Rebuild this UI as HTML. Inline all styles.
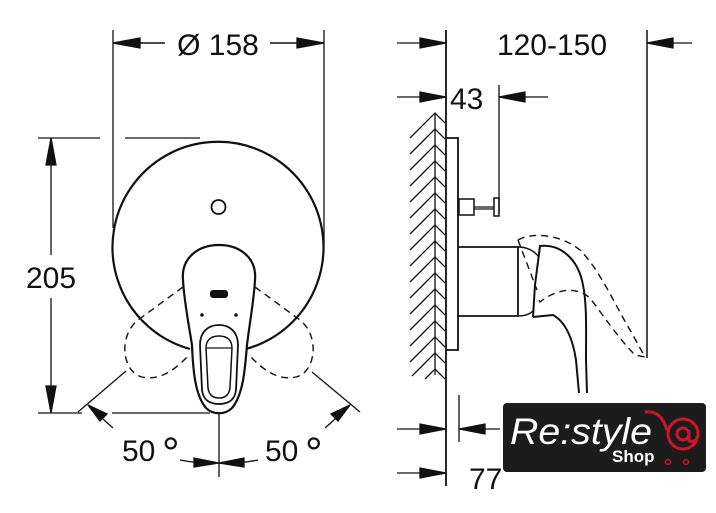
<!DOCTYPE html>
<html><head><meta charset="utf-8"><style>
html,body{margin:0;padding:0;background:#fff;}
svg{display:block;}
text{font-family:"Liberation Sans",sans-serif;fill:#111;}
</style></head><body>
<svg width="716" height="513" viewBox="0 0 716 513" xmlns="http://www.w3.org/2000/svg">
<g stroke="#111" fill="none" stroke-width="1.3">
<line x1="113" y1="30" x2="113" y2="228"/>
<line x1="324" y1="30" x2="324" y2="245"/>
<line x1="165" y1="43" x2="113" y2="43" stroke-width="1.5"/>
<path d="M113,43 L140,38 L140,48 Z" fill="#111"/>
<line x1="270" y1="43" x2="324" y2="43" stroke-width="1.5"/>
<path d="M324,43 L297,38 L297,48 Z" fill="#111"/>
<line x1="38" y1="138" x2="100" y2="138"/>
<line x1="125" y1="138" x2="200" y2="138"/>
<line x1="38" y1="413" x2="82" y2="413"/>
<line x1="112" y1="413" x2="210" y2="413"/>
<line x1="51" y1="138" x2="51" y2="255"/>
<line x1="51" y1="298" x2="51" y2="413"/>
<path d="M51,138 L46,165 L56,165 Z" fill="#111"/>
<path d="M51,413 L46,386 L56,386 Z" fill="#111"/>
<path d="M190,349 A105.5,105.5 0 1 1 246,349" stroke-width="2.2"/>
<circle cx="218.5" cy="207" r="7" stroke-width="1.8"/>
<path d="M192,345 C188,320 184,300 183,280 C181,258 198,245 219,245 C240,245 257,258 255,280 C254,300 250,320 247,345 C245,370 243,395 232,408 C225,415 213,415 206,408 C195,395 193,370 192,345 Z" stroke-width="2.2"/>
<path d="M200,345 C200,332 208,325 219,325 C230,325 238,332 238,345 L236,390 C235,400 228,404 219,404 C210,404 203,400 202,390 Z" stroke-width="1.8"/>
<path d="M206,348 C206,340 211,336 219,336 C227,336 232,340 232,348 L230,388 C229,395 225,398 219,398 C213,398 209,395 208,388 Z" stroke-width="1.5"/>
<line x1="206" y1="348" x2="232" y2="348"/>
<rect x="210" y="290" width="18" height="8" rx="3" fill="#111" stroke="none"/>
<circle cx="202" cy="315" r="1.8" fill="#111" stroke="none"/>
<circle cx="236" cy="315" r="1.8" fill="#111" stroke="none"/>
<path d="M183,287 L138,320 C118,336 122,372 142,377 C160,381 175,370 190,354" stroke-dasharray="7,5" stroke-width="1.4"/>
<path d="M255,287 L300,320 C320,336 316,372 296,377 C278,381 263,370 248,354" stroke-dasharray="7,5" stroke-width="1.4"/>
<line x1="126" y1="371" x2="78" y2="412"/>
<line x1="312" y1="372" x2="360" y2="412"/>
<line x1="113" y1="428" x2="95" y2="412"/>
<path d="M88,405 L107,414 L100,421 Z" fill="#111"/>
<line x1="325" y1="428" x2="343" y2="412"/>
<path d="M350,405 L331,414 L338,421 Z" fill="#111"/>
<line x1="219" y1="413" x2="219" y2="477"/>
<path d="M180,460 Q200,464 219,463" />
<path d="M258,460 Q238,464 219,463" />
<path d="M219,463 L194,458 L194,467 Z" fill="#111"/>
<path d="M219,463 L244,458 L244,467 Z" fill="#111"/>

<line x1="446" y1="30" x2="446" y2="486" stroke-width="1.8"/>
<line x1="647" y1="30" x2="647" y2="358" stroke-width="1.5"/>
<line x1="397" y1="43" x2="446" y2="43"/>
<path d="M446,43 L420,38 L420,48 Z" fill="#111"/>
<line x1="692" y1="43" x2="647" y2="43"/>
<path d="M647,43 L673,38 L673,48 Z" fill="#111"/>
<line x1="397" y1="97" x2="446" y2="97"/>
<path d="M446,97 L420,92 L420,102 Z" fill="#111"/>
<line x1="499" y1="85" x2="499" y2="213"/>
<line x1="548" y1="97" x2="499" y2="97"/>
<path d="M499,97 L525,92 L525,102 Z" fill="#111"/>
<line x1="435" y1="113" x2="435" y2="375"/>
<path d="M446,138 L458,138 L458,350 L446,350" stroke-width="1.8"/>
<rect x="459" y="199" width="15" height="16" stroke-width="1.5"/>
<line x1="474" y1="207" x2="494" y2="207"/>
<line x1="474" y1="209" x2="494" y2="209"/>
<rect x="494" y="198" width="5" height="18" stroke-width="1.5"/>
<path d="M458,247 L518,247 L518,316 L458,316" stroke-width="1.8"/>
<path d="M518,247 C527,247 533,250 538,256" stroke-width="1.5"/>
<path d="M518,316 C525,316 530,314 533,311" stroke-width="1.5"/>
<path d="M533,317 L535,285 L540,246 C560,244 578,258 583,285 C587,305 586,330 586,360 L587,393" stroke-width="2"/>
<path d="M533,317 L553,315 C566,322 573,340 576,360 L579,393" stroke-width="2"/>
<path d="M518,240 C532,232 560,234 580,250 C600,270 615,305 630,330 L645,357 L635,355 C620,340 605,318 590,298 C575,285 555,290 540,302 L537,297" stroke-dasharray="7,5" stroke-width="1.4"/>
<path d="M518,240 L537,290" stroke-dasharray="7,5" stroke-width="1.4"/>
<line x1="459" y1="395" x2="459" y2="442"/>
<line x1="397" y1="429" x2="446" y2="429"/>
<path d="M446,429 L420,424 L420,434 Z" fill="#111"/>
<line x1="500" y1="429" x2="459" y2="429"/>
<path d="M459,429 L485,424 L485,434 Z" fill="#111"/>
<line x1="397" y1="473" x2="446" y2="473"/>
<path d="M446,473 L420,468 L420,478 Z" fill="#111"/>
</g>
<g stroke="#111" stroke-width="1.3" fill="none">
<path d="M410,138 L435,113 L445,123 M410,154 L435,129 L445,139 M410,170 L435,145 L445,155 M410,186 L435,161 L445,171 M410,202 L435,177 L445,187 M410,218 L435,193 L445,203 M410,234 L435,209 L445,219 M410,250 L435,225 L445,235 M410,266 L435,241 L445,251 M410,282 L435,257 L445,267 M410,298 L435,273 L445,283 M410,314 L435,289 L445,299 M410,330 L435,305 L445,315 M410,346 L435,321 L445,331 M410,362 L435,337 L445,347 M412,376 L435,353 L445,363 M425,379 L435,369 L445,379"/>
</g>
<text x="218" y="55" font-size="30" text-anchor="middle">Ø 158</text>
<text x="51" y="288" font-size="30" text-anchor="middle">205</text>
<text x="122" y="461" font-size="30">50</text>
<text x="162" y="468" font-size="44">°</text>
<text x="265" y="461" font-size="30">50</text>
<text x="305" y="468" font-size="44">°</text>
<text x="552" y="55" font-size="30" text-anchor="middle">120-150</text>
<text x="450" y="109" font-size="30">43</text>
<text x="469" y="489" font-size="30">77</text>
<rect x="503" y="403" width="203" height="69" rx="4" fill="#1c1c1c"/>
<text x="510" y="444" font-size="37" font-style="italic" style="fill:#fff" textLength="142" lengthAdjust="spacingAndGlyphs">Re:style</text>
<text x="612" y="462" font-size="17" font-weight="bold" style="fill:#fff">Shop</text>
<g stroke="#d01428" fill="none" stroke-width="3">
<path d="M645,412 C658,410 664,420 667,430"/>
<circle cx="683" cy="434" r="15"/>
<circle cx="683" cy="434" r="6"/>
<path d="M689,430 L689,441 C693,443 697,440 697,436"/>
<circle cx="668" cy="462" r="2.5" stroke-width="1.5"/>
<circle cx="686" cy="462" r="2.5" stroke-width="1.5"/>
</g>
</svg>
</body></html>
